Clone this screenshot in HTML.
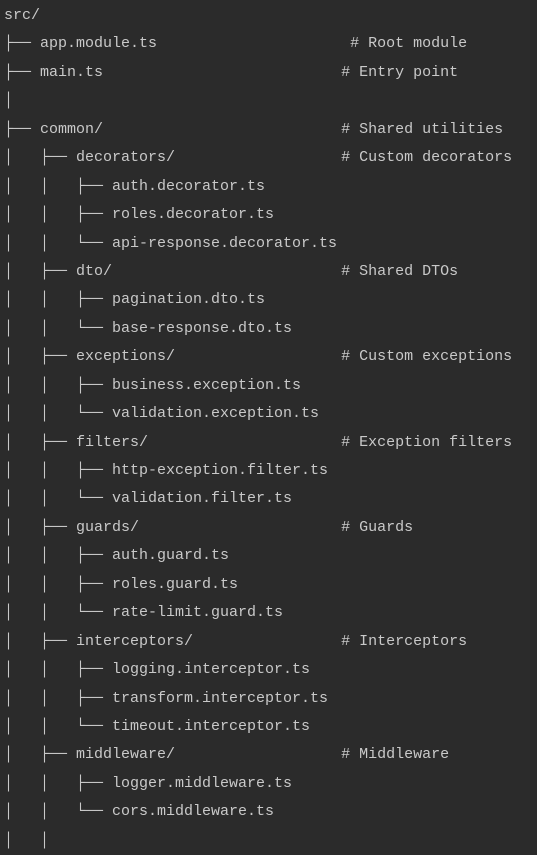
<!DOCTYPE html>
<html><head><meta charset="utf-8"><style>
html,body{margin:0;padding:0;background:#2b2b2b;width:537px;height:826px;overflow:hidden}
pre{margin:0;position:absolute;left:4px;top:2px;font-family:"Liberation Mono",monospace;font-size:15px;line-height:28.43px;color:#c9c9c9;white-space:pre}
pre span{position:relative;left:4px}
</style></head><body><pre>src/
├── app.module.ts                     <span># Root module</span>
├── main.ts                          <span># Entry point</span>
│
├── common/                          <span># Shared utilities</span>
│   ├── decorators/                  <span># Custom decorators</span>
│   │   ├── auth.decorator.ts
│   │   ├── roles.decorator.ts
│   │   └── api-response.decorator.ts
│   ├── dto/                         <span># Shared DTOs</span>
│   │   ├── pagination.dto.ts
│   │   └── base-response.dto.ts
│   ├── exceptions/                  <span># Custom exceptions</span>
│   │   ├── business.exception.ts
│   │   └── validation.exception.ts
│   ├── filters/                     <span># Exception filters</span>
│   │   ├── http-exception.filter.ts
│   │   └── validation.filter.ts
│   ├── guards/                      <span># Guards</span>
│   │   ├── auth.guard.ts
│   │   ├── roles.guard.ts
│   │   └── rate-limit.guard.ts
│   ├── interceptors/                <span># Interceptors</span>
│   │   ├── logging.interceptor.ts
│   │   ├── transform.interceptor.ts
│   │   └── timeout.interceptor.ts
│   ├── middleware/                  <span># Middleware</span>
│   │   ├── logger.middleware.ts
│   │   └── cors.middleware.ts
│   │
</pre></body></html>
